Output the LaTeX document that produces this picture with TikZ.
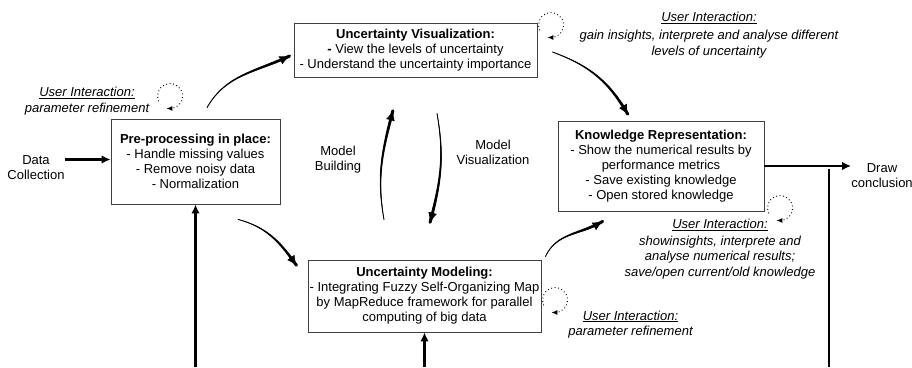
\documentclass[tikz,border=0pt]{standalone}
\usepackage{fontspec}
\setmainfont{Liberation Sans}
\usetikzlibrary{arrows.meta,calc,decorations.markings}
\newcommand{\rloop}{12.5}
\tikzset{
  box/.style={draw=black!75,line width=0.8pt,align=center,inner sep=0pt,font=\fontsize{13}{15}\selectfont},
  flow/.style={line width=2.4pt,-{Latex[length=9pt,width=8.5pt]}},
  curvedflow/.style={line width=0.8pt,-{Latex[length=10pt,width=9pt]},
    postaction={decorate,decoration={markings,
      mark=between positions 0 and 1 step 0.6pt with {
        \pgfmathsetmacro{\rr}{0.3+1.35*\pgfkeysvalueof{/pgf/decoration/mark info/distance from start}/\pgfdecoratedpathlength}
        \fill (0,0) circle[radius=\rr pt];}}}},
  feed/.style={line width=2.5pt},
  note/.style={align=center,inner sep=0pt,font=\fontsize{13}{15.5}\selectfont\itshape},
  side/.style={align=center,inner sep=0pt,font=\fontsize{13}{15}\selectfont},
  mlabel/.style={align=center,inner sep=0pt,font=\fontsize{13}{15}\selectfont},
  uiloop/.style={line width=0.9pt,dash pattern=on 0.9pt off 2.6pt},
  looptip/.style={line width=0.9pt,-{Latex[length=6pt,width=5pt]}}
}
\begin{document}
\begin{tikzpicture}[x=1pt,y=1pt]
\useasboundingbox (0,0) rectangle (912,-367);
\coordinate (bot) at (0,-367);
\coordinate (back) at (829,-169);
% the four stages
\node[box,minimum width=169pt,minimum height=85pt] (pre) at (195.5,-161.5)
  {\textbf{Pre-processing in place:}\\- Handle missing values\\- Remove noisy data\\- Normalization};
\node[box,minimum width=243pt,minimum height=54pt] (vis) at (415.5,-50)
  {\textbf{Uncertainty Visualization:}\\\textbf{-} View the levels of uncertainty\\- Understand the uncertainty importance};
\node[box,minimum width=206pt,minimum height=90pt] (know) at (661,-166)
  {\textbf{Knowledge Representation:}\\- Show the numerical results by\\performance metrics\\- Save existing knowledge\\- Open stored knowledge};
\node[box,minimum width=233pt,minimum height=72pt] (model) at (424.5,-296)
  {\textbf{Uncertainty Modeling:}\\- Integrating Fuzzy Self-Organizing Map\\by MapReduce framework for parallel\\computing of big data};
% side labels
\node[side] (data) at (36,-168) {Data\\Collection};
\node[side] (concl) at (882,-176) {Draw\\conclusion};
\node[mlabel] (mb) at (338,-160) {Model\\Building};
\node[mlabel] (mv) at (493,-152) {Model\\Visualization};
% user interaction
\node[note] (uipre) at (87,-101) {\underline{User Interaction:}\\parameter refinement};
\node[note] (uivis) at (709,-35) {\underline{User Interaction:}\\[3pt]gain insights, interprete and analyse different\\levels of uncertainty};
\node[note] (uiknow) at (720,-249) {\underline{User Interaction:}\\[1pt]showinsights, interprete and\\analyse numerical results;\\save/open current/old knowledge};
\node[note] (uimod) at (630.5,-324.5) {\underline{User Interaction:}\\parameter refinement};
\foreach \cx/\cy in {170/-96,551/-25,780/-208,555/-300}{
  \draw[uiloop] (\cx,\cy) ++(205:\rloop) arc[start angle=205,end angle=-88,radius=\rloop];
  \draw[looptip] (\cx,\cy) ++(-88:\rloop) -- ++(180:4);
}
% straight arrows
\draw[flow] ([yshift=2pt]pre.west -| data.east) -- ([yshift=2pt]pre.west);
\draw[flow] (know.east) -- (know.east -| concl.west);
\draw[flow] (pre.south |- bot) -- (pre.south);
\draw[flow] (model.south |- bot) -- (model.south);
\draw[feed] (back |- bot) -- (back);
% curved arrows
\draw[curvedflow] ([shift={(11.5,11)}]pre.north) to[out=60,in=205] ([shift={(-4,-6)}]vis.west);
\draw[curvedflow] ([shift={(15,-2)}]vis.east) to[out=-20,in=120] ([shift={(-33,6)}]know.north);
\draw[curvedflow] ([shift={(42.5,-15)}]pre.south) to[out=-15,in=125] ([shift={(-11,-6)}]model.north west);
\draw[curvedflow] ([shift={(4,3)}]model.north east) to[out=65,in=210] ([shift={(45,-10)}]know.south west);
\draw[curvedflow] ([shift={(-40.5,40)}]model.north) to[out=100,in=-105] ([shift={(-22.5,-33)}]vis.south);
\draw[curvedflow] ([shift={(21.5,-36)}]vis.south) to[out=-80,in=75] ([shift={(5.5,37)}]model.north);
\end{tikzpicture}
\end{document}
